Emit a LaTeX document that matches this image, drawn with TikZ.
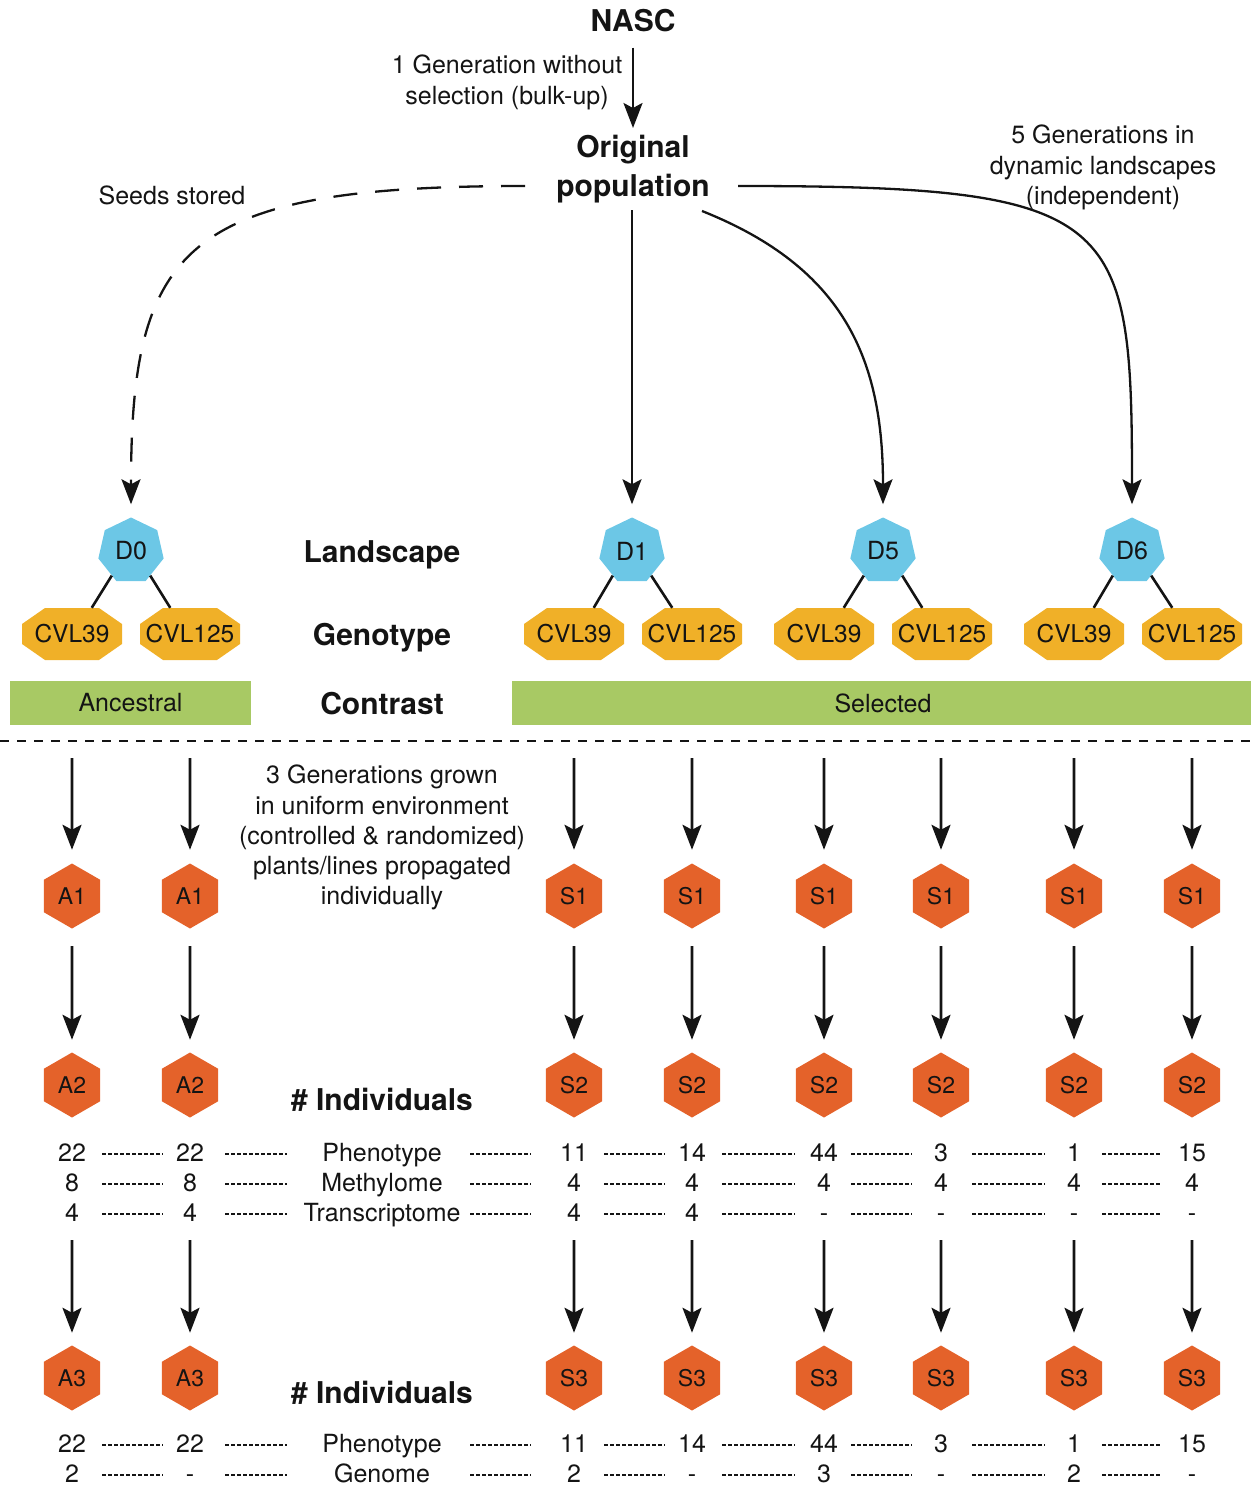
\documentclass[tikz,border=0pt]{standalone}
\usepackage{fontspec}
\setmainfont{TeX Gyre Heros}
\usetikzlibrary{shapes.geometric,arrows.meta}
\definecolor{dblue}{RGB}{108,199,230}
\definecolor{gold}{RGB}{240,176,40}
\definecolor{hexor}{RGB}{228,98,42}
\definecolor{bargreen}{RGB}{168,201,100}
\definecolor{ink}{RGB}{20,20,20}
\tikzset{
  txt/.style={font=\fontsize{25}{30.2}\selectfont, inner sep=0pt, align=center, text=ink},
  boldt/.style={font=\fontsize{30}{39}\selectfont\bfseries, inner sep=0pt, align=center, text=ink},
  dnode/.style={regular polygon, regular polygon sides=7, minimum size=67pt, inner sep=0pt, fill=dblue, text=ink, font=\fontsize{25}{30}\selectfont},
  cvl/.style={rectangle, minimum width=100pt, minimum height=52pt, inner sep=0pt, text=ink, font=\fontsize{24.5}{30}\selectfont},
  octa/.style={fill=gold},
  hexn/.style={regular polygon, regular polygon sides=6, shape border rotate=30, minimum size=65pt, inner sep=0pt, fill=hexor, text=ink, font=\fontsize{23}{28}\selectfont},
  bar/.style={rectangle, fill=bargreen, minimum height=44pt, inner sep=0pt, text=ink, font=\fontsize{25}{30}\selectfont},
  arr/.style={line width=2.6pt, draw=ink, -{Stealth[length=25pt,width=19pt,inset=5pt]}},
  carr/.style={line width=2.3pt, draw=ink, -{Stealth[length=25pt,width=19pt,inset=5pt]}},
  conn/.style={line width=2.6pt, draw=ink},
  dotl/.style={line width=1.2pt, draw=ink, dash pattern=on 3.5pt off 2.5pt},
}
\begin{document}
\begin{tikzpicture}[x=1pt,y=-1pt]
\path[use as bounding box] (0,0) rectangle (1251,1488);

% ---- top texts
\node[boldt, anchor=base] (nasc) at (633,32) {NASC};
\node[txt, anchor=north] (gen1) at (507,55) {1 Generation without\\selection (bulk-up)};
\node[boldt, anchor=north] (op) at (633,135) {Original\\population};
\node[txt, anchor=north] (gen5) at (1103,125) {5 Generations in\\dynamic landscapes\\(independent)};
\node[txt, anchor=base] (seeds) at (172,204) {Seeds stored};

\draw[arr, shorten <=15pt, shorten >=7pt] (nasc) -- (op);

% ---- landscapes
\node[dnode] (d0) at (131,551) {D0};
\node[dnode] (d1) at (632,551) {D1};
\node[dnode] (d5) at (883,551) {D5};
\node[dnode] (d6) at (1132,551) {D6};

\coordinate (opL) at (525,186);
\coordinate (opB) at (632,210);
\coordinate (opBR) at (702,211);
\coordinate (opR) at (738,186);

\draw[carr, dash pattern=on 24pt off 18pt, shorten >=13pt] (opL) .. controls (185,186) and (131,245) .. (d0);
\draw[carr, shorten >=13pt] (opB) -- (d1);
\draw[carr, shorten >=13pt] (opBR) .. controls (845,268) and (883,360) .. (d5);
\draw[carr, shorten >=13pt] (opR) .. controls (1120,186) and (1132,215) .. (d6);

% ---- genotypes
\foreach \n/\x/\d in {a/72/d0, b/574/d1, c/824/d5, e/1074/d6}{
  \fill[octa, shift={(\x,634)}] (-50pt,10pt) -- (-27pt,26pt) -- (27pt,26pt) -- (50pt,10pt) -- (50pt,-10pt) -- (27pt,-26pt) -- (-27pt,-26pt) -- (-50pt,-10pt) -- cycle;
  \fill[octa, shift={(\x+118,634)}] (-50pt,10pt) -- (-27pt,26pt) -- (27pt,26pt) -- (50pt,10pt) -- (50pt,-10pt) -- (27pt,-26pt) -- (-27pt,-26pt) -- (-50pt,-10pt) -- cycle;
  \node[cvl] (\n39) at (\x,634) {CVL39};
  \node[cvl] (\n125) at (\x+118,634) {CVL125};
  \draw[conn] (\d.232) -- (\n39.53);
  \draw[conn] (\d.308) -- (\n125.127);
}

% ---- row labels
\node[boldt, anchor=base] (lland) at (382,562) {Landscape};
\node[boldt, anchor=base] (lgeno) at (382,645) {Genotype};
\node[boldt, anchor=base] (lcont) at (382,714) {Contrast};

% ---- contrast bars
\node[bar, minimum width=241pt] (anc) at (130.5,703) {Ancestral};
\node[bar, minimum width=739pt] (sel) at (881.5,703) {};
\node[txt] (seltxt) at (883,703) {Selected};

% ---- separator
\draw[line width=2.3pt, draw=ink, dash pattern=on 9pt off 8pt] (0,741) -- (1251,741);

\node[txt, anchor=north] (grow) at (382,765) {3 Generations grown\\in uniform environment\\(controlled \& randomized)\\plants/lines propagated\\individually};

% ---- generations
\foreach \i/\x/\lab in {1/72/A, 2/190/A, 3/574/S, 4/692/S, 5/824/S, 6/941/S, 7/1074/S, 8/1192/S}{
  \coordinate (top\i) at (\x,758);
  \node[hexn] (g1\i) at (\x,896) {\lab1};
  \node[hexn] (g2\i) at (\x,1085) {\lab2};
  \node[hexn] (g3\i) at (\x,1378) {\lab3};
  \draw[arr, shorten >=13.5pt] (top\i) -- (g1\i);
  \draw[arr, shorten <=17.5pt, shorten >=12.5pt] (g1\i) -- (g2\i);
  \draw[arr, shorten <=122.5pt, shorten >=12.5pt] (g2\i) -- (g3\i);
}

\node[boldt, anchor=base] (ind1) at (382,1110) {\# Individuals};
\node[boldt, anchor=base] (ind2) at (382,1403) {\# Individuals};

% ---- tables
\foreach \r/\y/\lab/\va/\vb/\vc/\vd/\ve/\vf/\vg/\vh in {
  1/1161/Phenotype/22/22/11/14/44/3/1/15,
  2/1191/Methylome/8/8/4/4/4/4/4/4,
  3/1221/Transcriptome/4/4/4/4/-/-/-/-,
  4/1452/Phenotype/22/22/11/14/44/3/1/15,
  5/1482/Genome/2/-/2/-/3/-/2/-}{
  \node[txt, anchor=base] (lab\r) at (382,\y) {\lab};
  \node[txt, anchor=base] (v\r a) at (72,\y) {\va};
  \node[txt, anchor=base] (v\r b) at (190,\y) {\vb};
  \node[txt, anchor=base] (v\r c) at (574,\y) {\vc};
  \node[txt, anchor=base] (v\r d) at (692,\y) {\vd};
  \node[txt, anchor=base] (v\r e) at (824,\y) {\ve};
  \node[txt, anchor=base] (v\r f) at (941,\y) {\vf};
  \node[txt, anchor=base] (v\r g) at (1074,\y) {\vg};
  \node[txt, anchor=base] (v\r h) at (1192,\y) {\vh};
  \foreach \xa/\xb in {102/163, 225/287, 470/531, 604/665, 722/795, 851/912, 972/1045, 1102/1162}{
    \draw[dotl] (\xa,\y-7) -- (\xb,\y-7);
  }
}
\end{tikzpicture}
\end{document}
